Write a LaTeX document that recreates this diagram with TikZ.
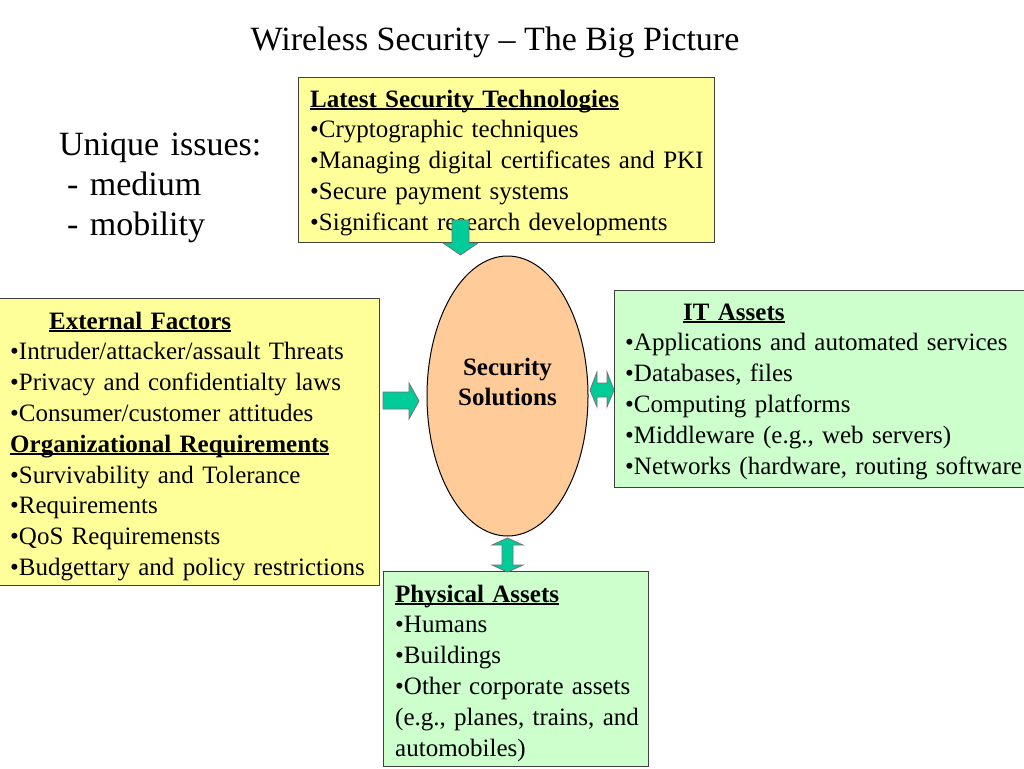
\documentclass[tikz,border=0pt]{standalone}
\usepackage{fontspec}
\setmainfont{Liberation Serif}
\newcommand{\ulbox}[1]{{\setbox0\hbox{#1}\rlap{\rule[-2.7pt]{\wd0}{1.5pt}}\box0}}
\usetikzlibrary{shapes.geometric}
\definecolor{techyellow}{HTML}{FFFF99}
\definecolor{assetgreen}{HTML}{CCFFCC}
\definecolor{peach}{HTML}{FFCC99}
\definecolor{arrowgreen}{HTML}{00CC99}
\definecolor{boxgray}{HTML}{404040}
\begin{document}
\begin{tikzpicture}[x=1pt,y=-1pt,
  box/.style={draw=boxgray, line width=1pt, inner sep=0pt, anchor=north west},
  txt/.style={anchor=base west, inner sep=0pt, align=left, text width=#1,
              font=\fontsize{25}{30.8}\selectfont},
  bigtxt/.style={anchor=base west, inner sep=0pt, align=left, text width=#1,
              font=\fontsize{34}{40}\selectfont},
  blockarrow/.style={fill=arrowgreen, draw=black!55, line width=0.8pt, line join=miter}]
\clip (0,0) rectangle (1024,768);
\fill[white] (0,0) rectangle (1024,768);

% title
\node[anchor=base, inner sep=0pt, font=\fontsize{34}{40}\selectfont] (title) at (495,50)
  {Wireless Security -- The Big Picture};

% unique issues
\node[bigtxt=260pt] (unique) at (59,155.5)
  {Unique issues:\\\hspace*{8pt}- medium\\\hspace*{8pt}- mobility};

% boxes
\node[box, fill=techyellow, minimum width=416pt, minimum height=165pt] (techbox) at (298,77) {};
\node[box, fill=techyellow, minimum width=380pt, minimum height=287pt] (extbox) at (-1,298) {};
\node[box, fill=assetgreen, minimum width=430pt, minimum height=197pt] (itbox) at (614,290) {};
\node[box, fill=assetgreen, minimum width=265pt, minimum height=195pt] (physbox) at (383,571) {};

% ellipse
\node[ellipse, draw=black, line width=1pt, fill=peach, minimum width=161pt,
      minimum height=280pt, inner sep=0pt] (sec) at (507.5,396) {};
\node[anchor=base, inner sep=0pt, align=center, text width=150pt,
      font=\fontsize{25}{30.8}\selectfont\bfseries] (sectext) at (507.5,375)
  {Security\\Solutions};

% texts
\node[txt=400pt] (techtext) at (310,107)
  {\textbf{\ulbox{Latest Security Technologies}}\\
   •Cryptographic techniques\\
   •Managing digital certificates and PKI\\
   •Secure payment systems\\
   •Significant research developments};

\node[txt=372pt] (exttext) at (10,329)
  {\hspace*{39pt}\textbf{\ulbox{External Factors}}\\
   •Intruder/attacker/assault Threats\\
   •Privacy and confidentialty laws\\
   •Consumer/customer attitudes\\
   \textbf{\ulbox{Organizational Requirements}}\\
   •Survivability and Tolerance\\
   •Requirements\\
   •QoS Requiremensts\\
   •Budgettary and policy restrictions};

\node[txt=420pt] (ittext) at (625,320)
  {\hspace*{58pt}\textbf{\ulbox{IT Assets}}\\
   •Applications and automated services\\
   •Databases, files\\
   •Computing platforms\\
   •Middleware (e.g., web servers)\\
   •Networks (hardware, routing software};

\node[txt=255pt] (phystext) at (395,602)
  {\textbf{\ulbox{Physical Assets}}\\
   •Humans\\
   •Buildings\\
   •Other corporate assets\\
   (e.g., planes, trains, and\\
   automobiles)};

% block arrows
\draw[blockarrow] (452,220) -- (469,220) -- (469,243) -- (478,243) -- (460.5,255)
  -- (443,243) -- (452,243) -- cycle;
\draw[blockarrow] (383,392) -- (409,392) -- (409,383) -- (419,401) -- (409,419)
  -- (409,409) -- (383,409) -- cycle;
\draw[blockarrow] (590,390) -- (597,372) -- (597,383) -- (607,383) -- (607,372)
  -- (614,390) -- (607,407) -- (607,397) -- (597,397) -- (597,407) -- cycle;
\draw[blockarrow] (507.5,538) -- (523,545) -- (513,545) -- (513,565) -- (523,565)
  -- (507.5,572) -- (492,565) -- (502,565) -- (502,545) -- (492,545) -- cycle;
\end{tikzpicture}
\end{document}
